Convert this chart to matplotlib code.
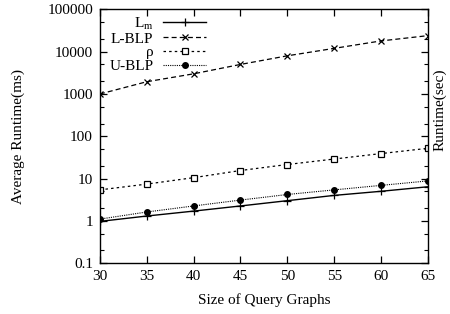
import numpy as np
import matplotlib
matplotlib.use("Agg")
import matplotlib.pyplot as plt
from matplotlib.ticker import LogLocator, NullFormatter, FixedLocator

plt.rcParams['font.family'] = ['Liberation Serif', 'DejaVu Serif']
plt.rcParams['mathtext.fontset'] = 'custom'
plt.rcParams['mathtext.rm'] = 'Liberation Serif'

# query graph sizes
sizes = [30, 35, 40, 45, 50, 55, 60, 65]

# average runtime (ms)
lm = [0.97, 1.3, 1.7, 2.25, 3.0, 4.0, 5.0, 6.4]
lblp = [1000, 1950, 3000, 5000, 8000, 12000, 18000, 24000]
rho = [5.4, 7.4, 10.5, 15.5, 21.5, 29, 39, 52]
ublp = [1.1, 1.62, 2.25, 3.1, 4.2, 5.4, 6.9, 8.8]

yticks = [0.1, 1, 10, 100, 1000, 10000, 100000]
ytick_labels = ["0.1", "1", "10", "100", "1000", "10000", "100000"]

fig = plt.figure(figsize=(4.5, 3.14), dpi=100)
ax = fig.add_axes([0.222, 0.162, 0.729, 0.808])

ax.plot(sizes, lm, color='black', linestyle='-', linewidth=1.0,
        marker='+', markersize=6, markeredgewidth=0.9, label=r'L$_\mathrm{m}$')
ax.plot(sizes, lblp, color='black', linestyle=(0, (4, 2.5)), linewidth=0.9,
        marker='x', markersize=4.5, markeredgewidth=0.9, label='L-BLP')
ax.plot(sizes, rho, color='black', linestyle=(0, (2, 2.5)), linewidth=0.9,
        marker='s', markersize=4.5, markerfacecolor='white', markeredgewidth=0.9, label='ρ')
ax.plot(sizes, ublp, color='black', linestyle=(0, (1, 1)), linewidth=0.8,
        marker='o', markersize=4, markerfacecolor='black', label='U-BLP')

ax.set_yscale('log')
ax.set_xlim(30, 65)
ax.set_ylim(0.1, 100000)
ax.set_xticks(sizes)
ax.yaxis.set_major_locator(FixedLocator(yticks))
ax.set_yticklabels(ytick_labels)
ax.yaxis.set_minor_locator(LogLocator(base=10, subs=(2.0, 5.0), numticks=20))
ax.yaxis.set_minor_formatter(NullFormatter())

ax.tick_params(axis='both', which='major', direction='in', length=5, width=0.9,
               top=True, right=True, labelsize=11, pad=5)
ax.tick_params(axis='y', which='minor', direction='in', length=3, width=0.8,
               left=True, right=True)
for s in ax.spines.values():
    s.set_linewidth(1.0)

ax.set_xlabel('Size of Query Graphs', fontsize=11, labelpad=7)
ax.set_ylabel('Average Runtime(ms)', fontsize=11, labelpad=16)
fig.text(0.977, 0.65, 'Runtime(sec)', rotation=90, fontsize=11,
         ha='center', va='center')

leg = ax.legend(loc='upper left', bbox_to_anchor=(0.01, 1.0015), frameon=False,
                markerfirst=False, fontsize=11, handlelength=2.8,
                labelspacing=0.0, borderaxespad=0.0, handletextpad=0.65)
# right-align the labels, gnuplot style
for col in leg._legend_handle_box.get_children():
    col.align = 'right'

fig.savefig('out.png', dpi=100)
